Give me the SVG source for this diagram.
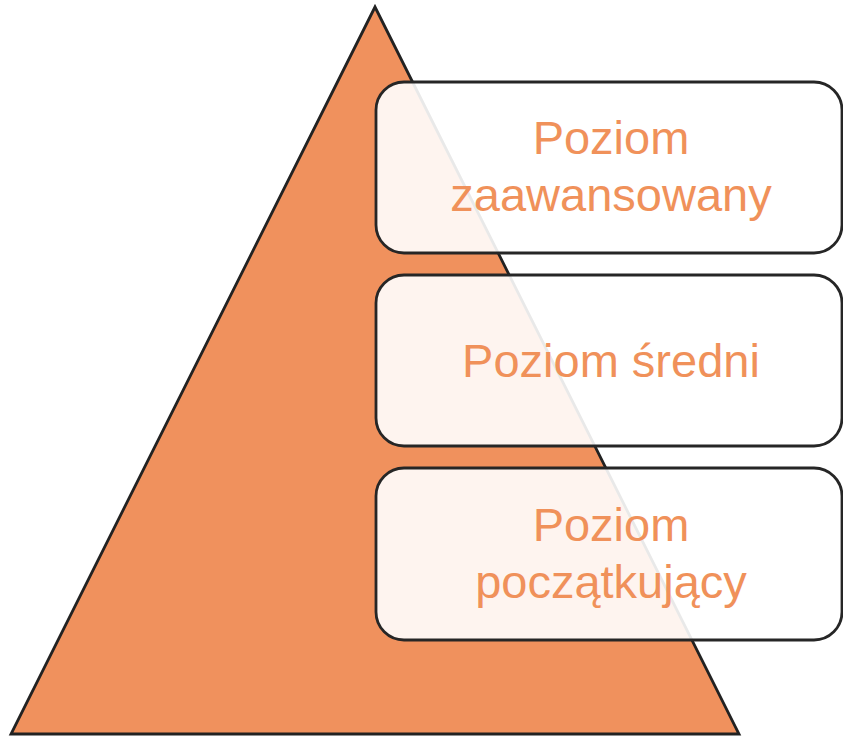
<svg xmlns="http://www.w3.org/2000/svg" width="843" height="737" viewBox="0 0 843 737">
  <style>
    .tri { fill: #F0915D; stroke: #222222; stroke-width: 2.8; stroke-linejoin: miter; }
    .box { fill: #FFFFFF; fill-opacity: 0.9; stroke: #262626; stroke-width: 2.8; }
    .lbl { font-family: "Liberation Sans", "Open Sans", sans-serif; font-size: 47px; fill: #F0915A; text-anchor: middle; }
  </style>
  <rect width="843" height="737" fill="#FFFFFF"/>
  <g id="pyramid">
    <polygon class="tri" points="375,7 11,734 739,734"/>
  </g>
  <g id="level-advanced">
    <rect class="box" x="376" y="82" width="466" height="171" rx="28" ry="28"/>
    <text class="lbl" x="611" y="154">Poziom</text>
    <text class="lbl" x="611" y="211">zaawansowany</text>
  </g>
  <g id="level-intermediate">
    <rect class="box" x="376" y="275" width="466" height="171" rx="28" ry="28"/>
    <text class="lbl" x="611" y="377">Poziom średni</text>
  </g>
  <g id="level-beginner">
    <rect class="box" x="376" y="468" width="466" height="172" rx="28" ry="28"/>
    <text class="lbl" x="611" y="541">Poziom</text>
    <text class="lbl" x="611" y="598">początkujący</text>
  </g>
  <g id="connectors"/>
</svg>
